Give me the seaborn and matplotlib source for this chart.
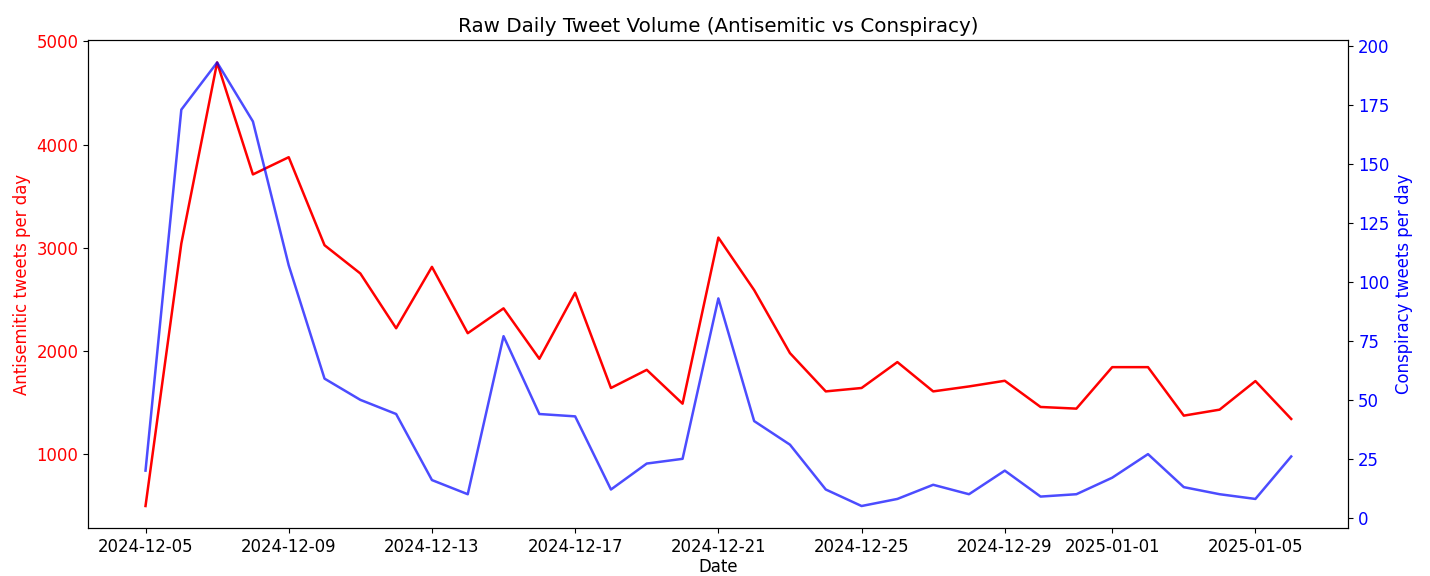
import matplotlib
matplotlib.use("Agg")
import matplotlib.pyplot as plt
import pandas as pd
import seaborn as sns

# Daily counts, 2024-12-05 .. 2025-01-06
dates = pd.date_range("2024-12-05", "2025-01-06", freq="D")
antisemitic = [496, 3040, 4795, 3710, 3877, 3024, 2750, 2219, 2814, 2171,
               2412, 1923, 2563, 1640, 1816, 1488, 3098, 2589, 1978, 1607,
               1640, 1891, 1607, 1655, 1710, 1456, 1440, 1842, 1842, 1372,
               1430, 1707, 1340]
conspiracy = [20, 173, 193, 168, 107, 59, 50, 44, 16, 10,
              77, 44, 43, 12, 23, 25, 93, 41, 31, 12,
              5, 8, 14, 10, 20, 9, 10, 17, 27, 13,
              10, 8, 26]

df = pd.DataFrame({"Date": dates, "antisemitic": antisemitic, "conspiracy": conspiracy})

plt.rcParams["font.size"] = 11.9
fig, ax = plt.subplots(figsize=(14.3, 5.76), dpi=100)
fig.subplots_adjust(left=0.0617, right=0.943, bottom=0.083, top=0.93)

sns.lineplot(data=df, x="Date", y="antisemitic", ax=ax, color="red", linewidth=1.8)
ax.set_xlabel("Date", labelpad=1.5)
ax.set_ylabel("Antisemitic tweets per day", color="red")
ax.tick_params(axis="y", labelcolor="red")

ax2 = ax.twinx()
sns.lineplot(data=df, x="Date", y="conspiracy", ax=ax2, color="blue", alpha=0.7, linewidth=1.8)
ax2.set_ylabel("Conspiracy tweets per day", color="blue")
ax2.tick_params(axis="y", labelcolor="blue")

ax.set_title("Raw Daily Tweet Volume (Antisemitic vs Conspiracy)", fontsize=14.3)

fig.savefig("out.png", dpi=100)
